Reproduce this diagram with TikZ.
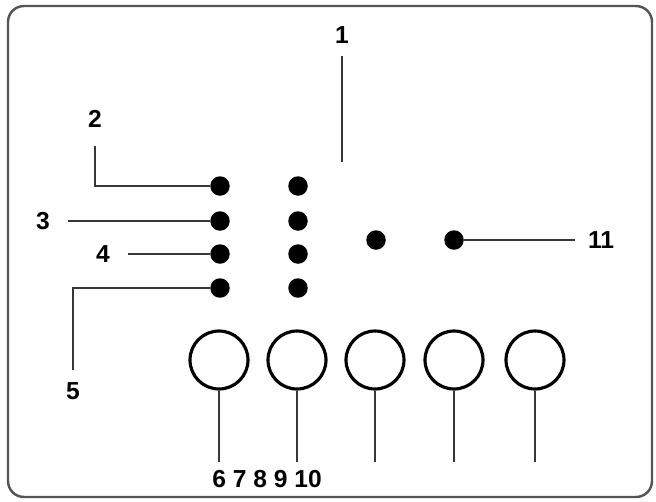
\documentclass[tikz,border=0pt]{standalone}
\usepackage{fontspec}
\setmainfont{Liberation Sans}
\usetikzlibrary{positioning}
\definecolor{framegray}{RGB}{85,85,85}
\definecolor{leadgray}{RGB}{55,55,55}

\begin{document}
\begin{tikzpicture}[x=0.02cm, y=-0.02cm,
    every node/.style={font=\fontsize{14}{17}\selectfont\bfseries},
    pin/.style={circle, fill=black, inner sep=0pt, minimum size=0.39cm},
    ring/.style={circle, draw=black, line width=1.8pt, inner sep=0pt, minimum size=1.16cm},
    lab/.style={inner sep=7pt},
    lead/.style={draw=leadgray, line width=1.1pt}
]
\useasboundingbox (0,0) rectangle (656,501);

% outer frame
\draw[framegray, line width=1.4pt, rounded corners=0.32cm] (8,6) rectangle (652,497);

% pin grid (two columns of four)
\foreach \y [count=\i] in {186,221,254,288} {
  \node[pin] (a\i) at (220,\y) {};
  \node[pin] (b\i) at (298,\y) {};
}
\node[pin] (c1) at (376,240) {};
\node[pin] (c2) at (454,240) {};

% round sockets
\foreach \x [count=\i] in {219,297,375,454,535} {
  \node[ring] (s\i) at (\x,360) {};
  \coordinate (e\i) at (\x,462);
  \draw[lead] (s\i) -- (e\i);
}

% labels
\node[lab] (l1) at (342,35) {1};
\coordinate (t1) at (342,162);
\node[lab] (l2) at (95,119) {2};
\node[lab] (l3) at (43,221) {3};
\node[lab] (l4) at (103,254) {4};
\node[lab] (l5) at (73,391) {5};
\node[lab] (l11) at (601,240) {11};
\node (lbot) at (267,479) {6 7 8 9 10};

% leader lines
\draw[lead] (l1) -- (t1);
\draw[lead, shorten <=3pt] (l2) |- (a1);
\draw[lead, shorten <=3pt] (l3) -- (a2);
\draw[lead, shorten <=3pt] (l4) -- (a3);
\draw[lead] (l5) |- (a4);
\draw[lead] (c2) -- (l11);

\end{tikzpicture}
\end{document}
